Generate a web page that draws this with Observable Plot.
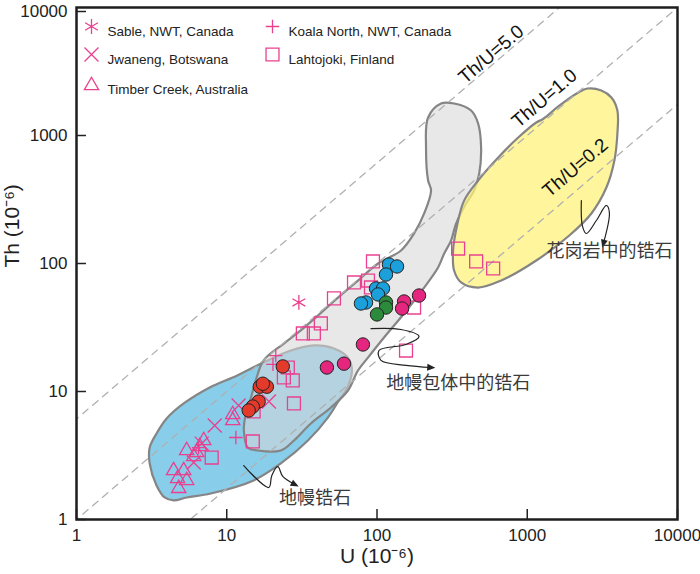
<!DOCTYPE html>
<html><head><meta charset="utf-8">
<script src="https://cdn.jsdelivr.net/npm/d3@7"></script>
<script src="https://cdn.jsdelivr.net/npm/@observablehq/plot@0.6"></script>
<style>
html,body{margin:0;padding:0;background:#fff;}
#chart{width:700px;height:574px;}
</style></head><body><div id="chart"></div>
<script>
// ---- data: [U (ppm), Th (ppm)] ----
const sable = [[30.2, 49.6]];
const koalaNorth = [[21.2, 19.1], [20.3, 16.3], [11.5, 4.37], [6.5, 3.65]];
const jwaneng = [[8.32, 5.42], [12.0, 7.78], [19.1, 8.35], [6.81, 3.92], [6.03, 2.79]];
const timberCreek = [[10.96, 6.61], [10.96, 5.93], [5.41, 3.46], [7.03, 4.14], [6.61, 3.72], [6.31, 3.34],
  [6.03, 3.11], [4.43, 2.41], [5.17, 2.41], [4.71, 2.09], [5.41, 2.02], [4.79, 1.75]];
const lahtojoki = [[94.0, 103.7], [87.1, 73.6], [70.3, 71.1], [91.2, 65.0], [51.7, 53.4], [42.3, 34.0],
  [32.1, 28.4], [38.0, 28.4], [176.5, 45.3], [156.0, 20.9], [25.5, 15.4], [24.0, 12.9], [27.5, 12.2],
  [28.0, 8.06], [15.1, 6.98], [14.9, 4.07], [7.94, 3.05], [346.7, 130.9], [457, 103.7], [593, 91.4]];
const blueZircon = [[120.2, 98.2], [135.9, 94.8], [114.8, 82.0], [98.5, 63.8], [109.6, 63.8], [101.6, 57.3], [84.5, 49.6], [78.2, 48.7]];
const greenZircon = [[114.8, 49.6], [114.8, 45.3], [100, 40.0]];
const magentaZircon = [[151.4, 50.5], [190.5, 56.2], [146.8, 44.5], [80.6, 23.3], [60.3, 16.5], [46.4, 15.4]];
const redZircon = [[23.6, 15.7], [16.6, 10.9], [18.5, 10.9], [17.4, 11.5], [16.3, 8.35], [14.9, 7.63], [14.0, 7.11]];

// field outlines
const mantleField = [[3.07, 2.74], [3.07, 3.65], [3.41, 4.70], [3.98, 6.15], [5.17, 8.06], [7.70, 10.75], [11.66, 13.3],
  [17.6, 16.9], [26.7, 20.9], [38.0, 22.9], [51.7, 21.7], [64.1, 18.4], [68.1, 14.6], [63.1, 10.55], [55.8, 8.51],
  [47.1, 6.26], [34.7, 4.14], [22.9, 2.74], [15.1, 2.02], [7.82, 1.596], [5.41, 1.486], [4.43, 1.41], [3.86, 1.486], [3.41, 1.845]];
const inclusionField = [[218.8, 1383], [267, 1778], [326, 1778], [423, 1567], [471, 1241], [493, 805], [479, 505],
  [443, 372], [392, 294], [336, 205], [311, 151], [280, 119.7], [255, 93], [206, 64.9], [151.4, 40.7], [111.4, 26.4],
  [87.1, 18.4], [74.7, 14.6], [64.1, 10.18], [49.4, 7.5], [36.3, 5.62], [28.0, 4.14], [22.9, 3.46], [16.1, 3.46],
  [13.8, 3.65], [13.0, 4.96], [13.4, 6.73], [14.5, 8.98], [15.6, 12.2], [17.6, 17.5], [24.0, 23.7], [31.1, 30.0],
  [40.4, 39.2], [55.0, 54.2], [74.7, 73.6], [101.6, 100], [144.5, 126.4], [176.5, 171.6], [206, 246], [229, 372],
  [218.8, 445], [212, 805]];
const graniteField = [[321, 126.4], [326, 88.2], [363, 71.1], [471, 64.9], [671, 73.6], [1148, 105.5], [1905, 165.5],
  [2672, 246], [3363, 392], [3802, 638], [3981, 1037], [3981, 1567], [3631, 1982], [3113, 2248], [2512, 2328],
  [2188, 2168], [1610, 1686], [1339, 1407], [1259, 1334], [1148, 1264], [871, 964], [641, 673], [471, 445],
  [380, 310], [341, 198]];

// Th/U reference lines (position as drawn) and their labels
const ratioValues = [6.1, 1.0, 0.175];
const ratioLabels = ["Th/U=5.0", "Th/U=1.0", "Th/U=0.2"];
const ratioLabelU = [575, 1300, 2089];
const ratioLabelTh = [4300, 1950, 560];

// annotations
const fieldNames = ["花岗岩中的锆石", "地幔包体中的锆石", "地幔锆石"];
const fieldNameU = [3522, 346.7, 38.6];
const fieldNameTh = [124.1, 11.55, 1.46];
const arrowGranite = [[2291, 310.5], [2326, 198], [2473, 171.6], [2884, 216.8], [3363, 284], [3521, 250], [3212, 143.3]];
const arrowInclusion = [[91.2, 31.0], [144.5, 30.5], [190.5, 26.9], [156, 23.3], [103, 20.9], [106.3, 17.5], [156, 16.0], [229, 15.4]];
const arrowMantle = [[12.98, 2.64], [19.05, 1.778], [19.95, 2.21], [21.88, 2.59], [23.6, 2.17], [28.4, 1.876]];

// legend
const legendLabels = ["Sable, NWT, Canada", "Jwaneng, Botswana", "Timber Creek, Australia", "Koala North, NWT, Canada", "Lahtojoki, Finland"];
const legendSymbols = ["asterisk", "times", "triangle2", "plus", "square"];

const tickValues = [1, 10, 100, 1000];
const topTick = [10000];

// ---- styling ----
const PINK = "#e9408f";
const symSize = {asterisk: 7.0, times: 6.4, triangle2: 6.8, plus: 4.4, square: 7.3};
const X = d => d[0], Y = d => d[1];

const ratioRows = ratioValues.flatMap((k, i) => [0.01, 100000].map(u => ({k: i, U: u, Th: k * u})));
const ratioLabelRows = ratioLabels.map((t, i) => ({t, U: ratioLabelU[i], Th: ratioLabelTh[i]}));
const fieldNameRows = fieldNames.map((t, i) => ({t, U: fieldNameU[i], Th: fieldNameTh[i]}));

const legendPos = [[15, 19], [15, 47], [15, 77], [196, 19], [196, 47]];
const legendMarks = legendLabels.flatMap((lab, i) => [
  Plot.dot([lab], {frameAnchor: "top-left", dx: legendPos[i][0], dy: legendPos[i][1] + (legendSymbols[i] === "triangle2" ? 1 : 0),
    symbol: legendSymbols[i], r: symSize[legendSymbols[i]], stroke: PINK, strokeWidth: 1.3}),
  Plot.text([lab], {text: d => d, frameAnchor: "top-left", dx: legendPos[i][0] + 16, dy: legendPos[i][1],
    textAnchor: "start", fontSize: 13.5, fill: "#222"})
]);

const symbolMark = (data, sym) => Plot.dot(data, {x: X, y: Y, symbol: sym, r: symSize[sym], stroke: PINK, strokeWidth: 1.3, fill: "none"});
const circleMark = (data, color) => Plot.dot(data, {x: X, y: Y, r: 6.7, fill: color, stroke: "#222", strokeWidth: 1});
const arrowMark = data => Plot.line(data, {x: X, y: Y, curve: "catmull-rom", stroke: "#222", strokeWidth: 1.2, markerEnd: "arrow"});
const axisOpts = {tickSize: -10, tickFormat: d => String(d), fontSize: 17, label: null, strokeWidth: 1.5};

const chart = Plot.plot({
  width: 700, height: 574,
  marginLeft: 76, marginRight: 23, marginTop: 7, marginBottom: 55,
  x: {type: "log", domain: [1, 10000]},
  y: {type: "log", domain: [1, 10000]},
  style: {fontFamily: "'Liberation Sans', Arial, sans-serif", background: "#fff", color: "#222"},
  marks: [
    Plot.line(mantleField, {x: X, y: Y, curve: "catmull-rom-closed", fill: "#88cdea", stroke: "#858585", strokeWidth: 2.2}),
    Plot.line(inclusionField, {x: X, y: Y, curve: "catmull-rom-closed", fill: "#d6d6d6", fillOpacity: 0.57, stroke: "#858585", strokeWidth: 2.2}),
    Plot.line(graniteField, {x: X, y: Y, curve: "catmull-rom-closed", fill: "#fff27c", fillOpacity: 0.75, stroke: "#858585", strokeWidth: 2.2}),
    Plot.line(ratioRows, {x: "U", y: "Th", z: "k", stroke: "#b0b0b0", strokeWidth: 1.3, strokeDasharray: "7,6", clip: true}),
    Plot.text(ratioLabelRows, {x: "U", y: "Th", text: "t", rotate: -40.5, fontSize: 19, fill: "#111"}),
    symbolMark(timberCreek, "triangle2"),
    symbolMark(jwaneng, "times"),
    symbolMark(koalaNorth, "plus"),
    symbolMark(sable, "asterisk"),
    symbolMark(lahtojoki, "square"),
    circleMark(blueZircon, "#1ba0dc"),
    circleMark(greenZircon, "#2c8a3c"),
    circleMark(magentaZircon, "#e5267f"),
    circleMark(redZircon, "#e33a2b"),
    arrowMark(arrowGranite),
    arrowMark(arrowInclusion),
    arrowMark(arrowMantle),
    Plot.text(fieldNameRows, {x: "U", y: "Th", text: "t", fontSize: 18, fontFamily: "'Noto Sans CJK SC', sans-serif", fill: "#3a3a3a"}),
    ...legendMarks,
    Plot.axisX([...tickValues, ...topTick], axisOpts),
    Plot.axisY(tickValues, axisOpts),
    Plot.axisY(topTick, {...axisOpts, dy: 4}),
    Plot.text(["U (10⁻⁶)"], {text: d => d, frameAnchor: "bottom", dy: 43, fontSize: 21, fill: "#222"}),
    Plot.text(["Th (10⁻⁶)"], {text: d => d, frameAnchor: "left", dx: -64, dy: 4, rotate: -90, fontSize: 21, fill: "#222"}),
    Plot.frame({stroke: "#1e1e1e", strokeWidth: 2.5})
  ]
});
// filled arrowheads like the reference
const NS = "http://www.w3.org/2000/svg";
chart.querySelectorAll("marker").forEach(m => {
  m.setAttribute("viewBox", "-5 -5 10 10");
  m.setAttribute("markerWidth", "8");
  m.setAttribute("markerHeight", "8");
  m.setAttribute("fill", "#222");
  m.setAttribute("stroke", "none");
  while (m.firstChild) m.removeChild(m.firstChild);
  const p = document.createElementNS(NS, "path");
  p.setAttribute("d", "M-4,-3.6L4.5,0L-4,3.6Z");
  p.setAttribute("fill", "#222");
  p.setAttribute("stroke", "none");
  m.appendChild(p);
});
document.getElementById("chart").appendChild(chart);
</script></body></html>
